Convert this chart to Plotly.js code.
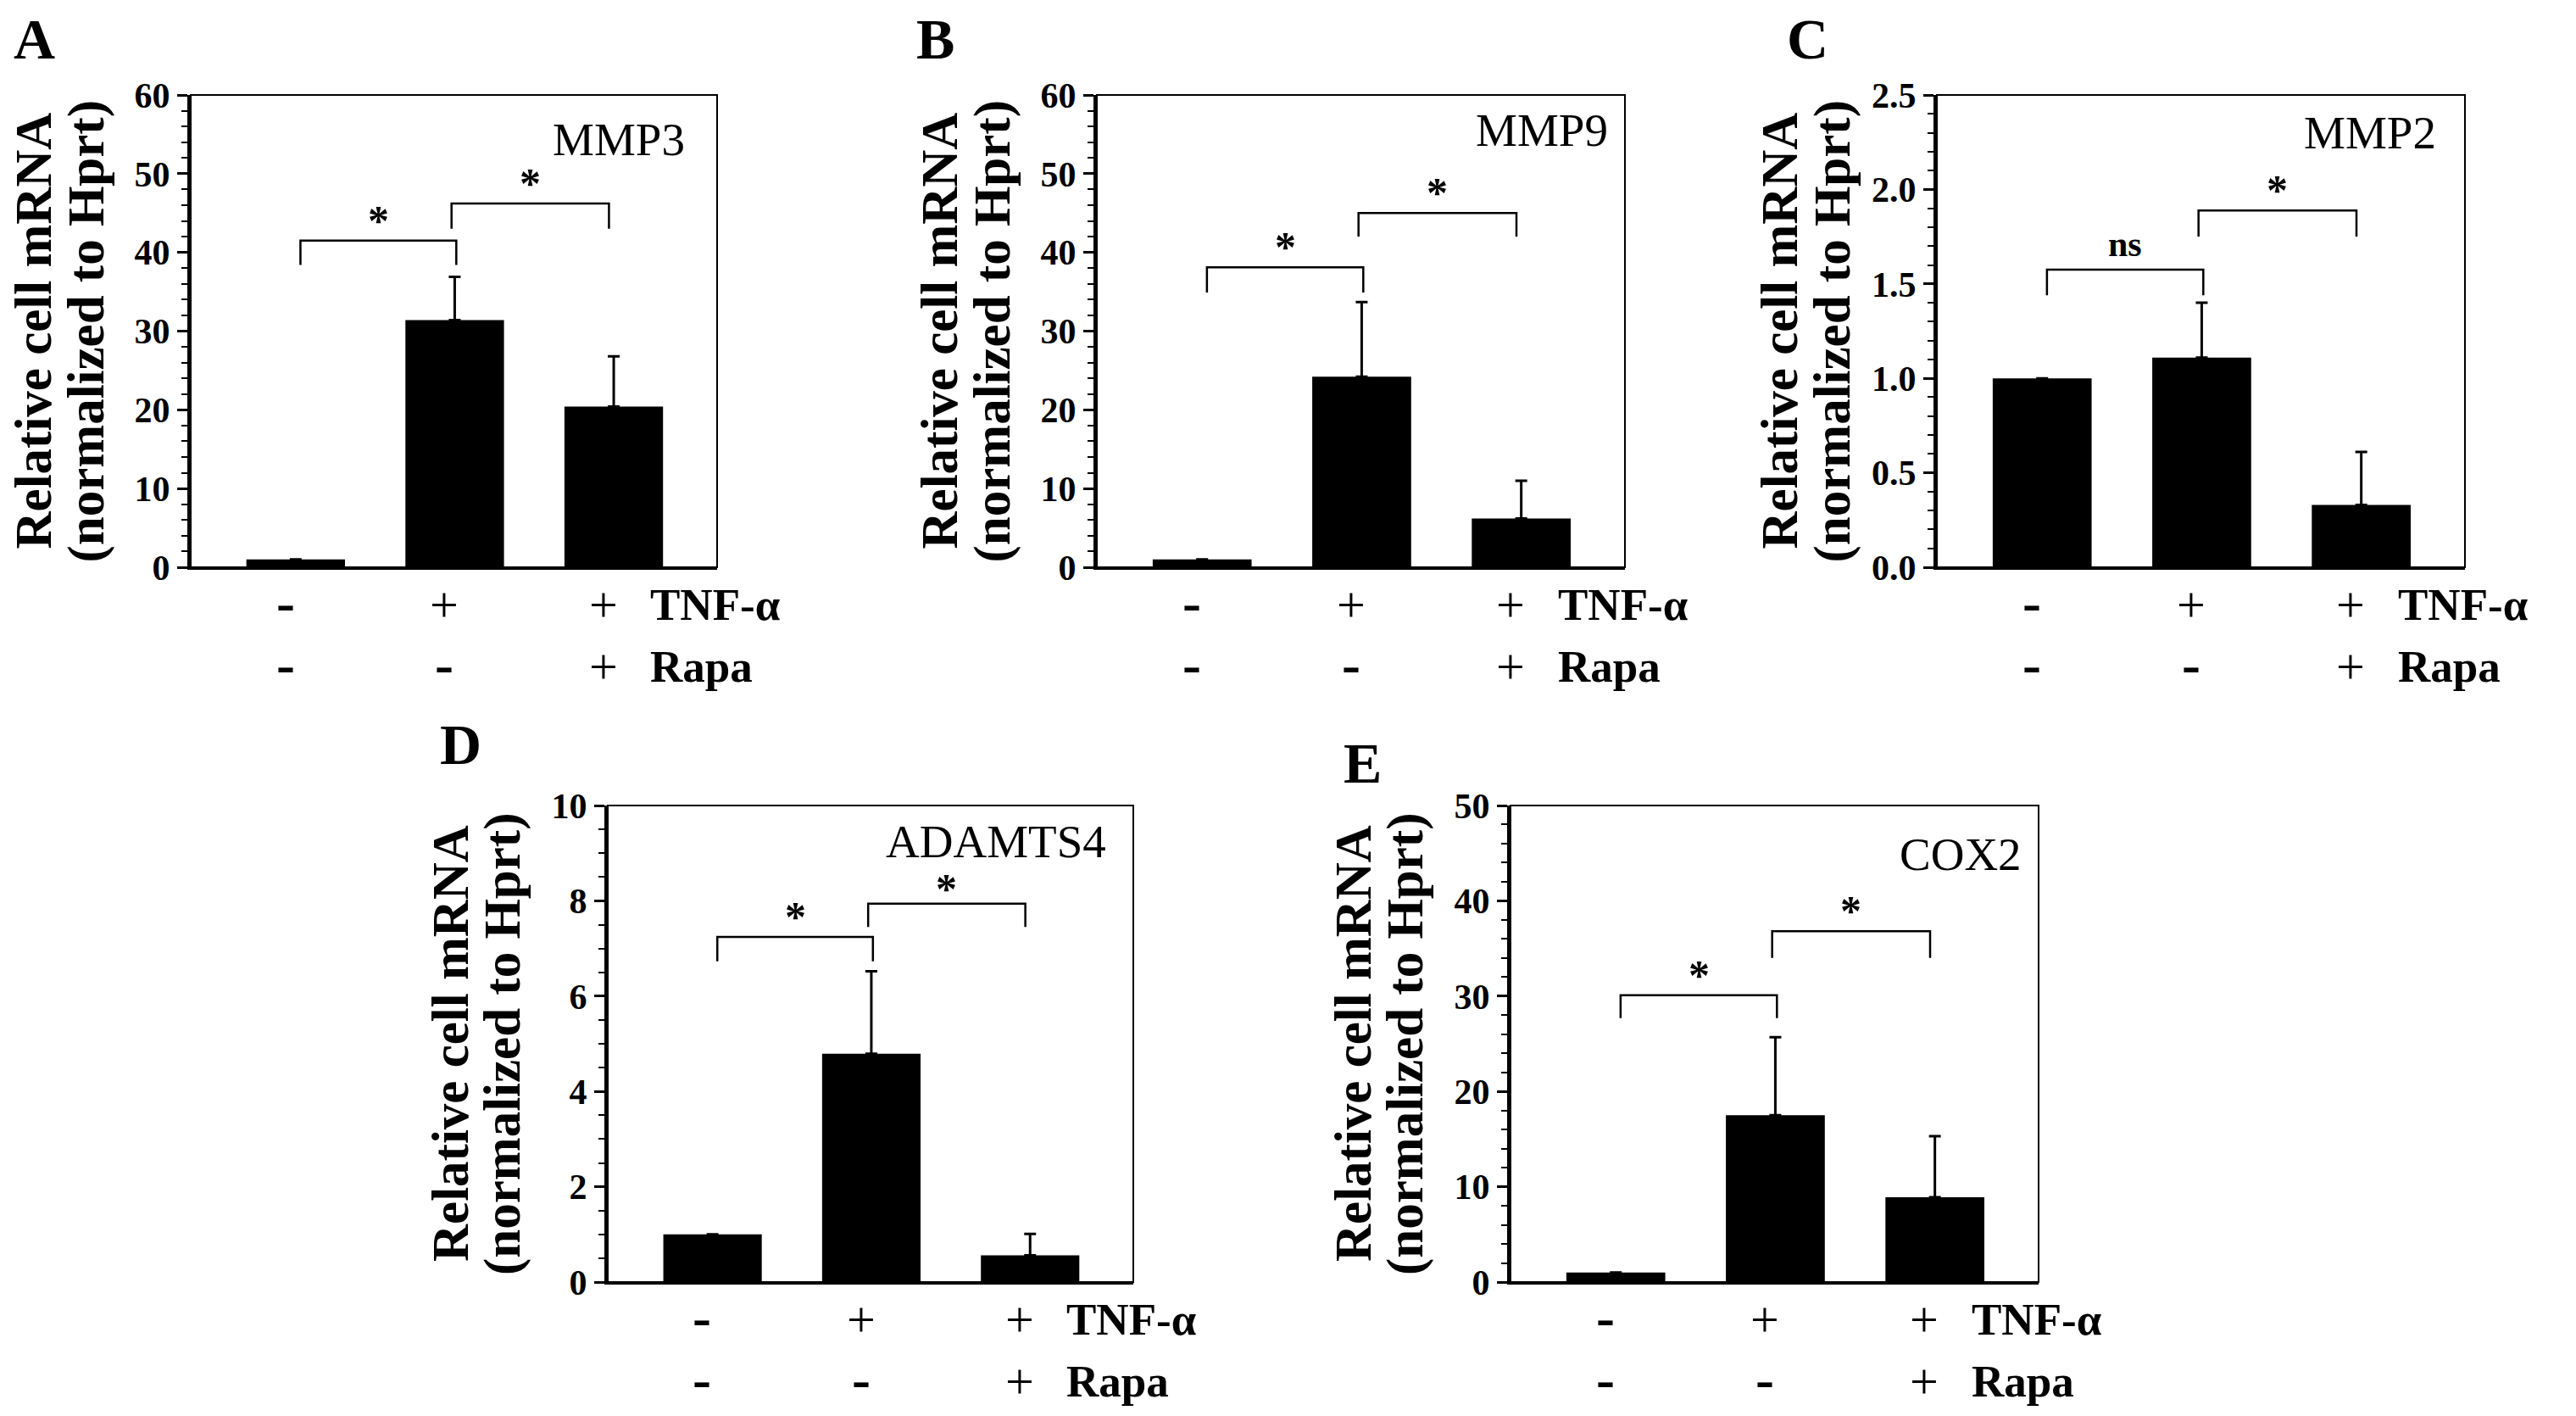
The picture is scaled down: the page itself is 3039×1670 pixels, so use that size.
<!DOCTYPE html>
<html>
<head>
<meta charset="utf-8">
<script src="https://cdn.plot.ly/plotly-3.0.1.min.js"></script>
<style>
  html, body { margin: 0; padding: 0; background: #fff; }
  #chart { width: 3039px; height: 1670px; }
</style>
</head>
<body>
<div id="chart"></div>
<script>
// groups on the x axis and the treatment rows under them
const groups = [0, 1, 2];
const tnfRow = ["-", "+", "+"];
const rapaRow = ["-", "-", "+"];

// A - MMP3
const mmp3Mean = [1.0, 31.4, 20.4];
const mmp3Err = [0, 5.5, 6.4];
const mmp3Level = [41.5, 46.2];
const mmp3Leg = [38.4, 43.0];
const mmp3Mark = ["*", "*"];

// B - MMP9
const mmp9Mean = [1.0, 24.2, 6.2];
const mmp9Err = [0, 9.5, 4.8];
const mmp9Level = [38.1, 45.0];
const mmp9Leg = [34.9, 42.0];
const mmp9Mark = ["*", "*"];

// C - MMP2
const mmp2Mean = [1.0, 1.11, 0.33];
const mmp2Err = [0, 0.29, 0.28];
const mmp2Level = [1.575, 1.888];
const mmp2Leg = [1.44, 1.751];
const mmp2Mark = ["ns", "*"];

// D - ADAMTS4
const adamtsMean = [1.0, 4.79, 0.56];
const adamtsErr = [0, 1.73, 0.45];
const adamtsLevel = [7.24, 7.94];
const adamtsLeg = [6.73, 7.45];
const adamtsMark = ["*", "*"];

// E - COX2
const cox2Mean = [1.0, 17.5, 8.9];
const cox2Err = [0, 8.2, 6.4];
const cox2Level = [30.1, 36.8];
const cox2Leg = [27.7, 34.0];
const cox2Mark = ["*", "*"];

// which groups each bracket joins
const bracketLeft = [0.03, 0.98];
const bracketRight = [1.01, 1.97];

const W = 3039;
const H = 1670;
const FONT = "Liberation Serif, Times New Roman, serif";

// box = [left, right, top, bottom] in px
const panels = [
  { letter: "A", gene: "MMP3", mean: mmp3Mean, err: mmp3Err, level: mmp3Level, leg: mmp3Leg, mark: mmp3Mark,
    yMax: 60, dtick: 10, minor: 2, fmt: "d", box: [225, 846, 112, 669], letterAt: [40, 46], geneShift: -36, geneY: 0.905, starShift: [24, 24] },
  { letter: "B", gene: "MMP9", mean: mmp9Mean, err: mmp9Err, level: mmp9Level, leg: mmp9Leg, mark: mmp9Mark,
    yMax: 60, dtick: 10, minor: 2, fmt: "d", box: [1294, 1917, 112, 669], letterAt: [1103, 46], geneShift: -18, geneY: 0.925, starShift: [24, 24] },
  { letter: "C", gene: "MMP2", mean: mmp2Mean, err: mmp2Err, level: mmp2Level, leg: mmp2Leg, mark: mmp2Mark,
    yMax: 2.5, dtick: 0.5, minor: 0.1, fmt: ".1f", box: [2285, 2908, 112, 669], letterAt: [2132, 46], geneShift: -32, geneY: 0.92, starShift: [30, 24] },
  { letter: "D", gene: "ADAMTS4", mean: adamtsMean, err: adamtsErr, level: adamtsLevel, leg: adamtsLeg, mark: adamtsMark,
    yMax: 10, dtick: 2, minor: 0.5, fmt: "d", box: [717, 1337, 950, 1512], letterAt: [543, 878], geneShift: -30, geneY: 0.925, starShift: [24, 18] },
  { letter: "E", gene: "COX2", mean: cox2Mean, err: cox2Err, level: cox2Level, leg: cox2Leg, mark: cox2Mark,
    yMax: 50, dtick: 10, minor: 2, fmt: "d", box: [1782, 2405, 950, 1512], letterAt: [1607, 900], geneShift: -18, geneY: 0.897, starShift: [24, 24] },
];

const data = [];
const shapes = [];
const annotations = [];
const layout = {
  width: W,
  height: H,
  margin: { l: 0, r: 0, t: 0, b: 0 },
  paper_bgcolor: "white",
  plot_bgcolor: "white",
  showlegend: false,
  font: { family: FONT, color: "black" },
};

panels.forEach((p, i) => {
  const k = i + 1;
  const sfx = k === 1 ? "" : String(k);
  const xr = "x" + sfx;
  const yr = "y" + sfx;
  const [left, right, top, bottom] = p.box;

  data.push({
    type: "bar",
    x: groups,
    y: p.mean,
    width: 0.62,
    xaxis: xr,
    yaxis: yr,
    marker: { color: "black", line: { width: 0 } },
    error_y: {
      type: "data",
      symmetric: false,
      array: p.err,
      arrayminus: [0, 0, 0],
      color: "black",
      thickness: 3,
      width: 7,
    },
    hoverinfo: "skip",
  });

  layout["xaxis" + sfx] = {
    domain: [left / W, right / W],
    anchor: yr,
    range: [-0.66, 2.65],
    showticklabels: false,
    ticks: "",
    showgrid: false,
    zeroline: false,
    showline: true,
    linewidth: 3,
    linecolor: "black",
  };
  layout["yaxis" + sfx] = {
    domain: [1 - bottom / H, 1 - top / H],
    anchor: xr,
    range: [0, p.yMax],
    tick0: 0,
    dtick: p.dtick,
    tickformat: p.fmt,
    ticks: "outside",
    ticklen: 12,
    tickwidth: 3,
    tickcolor: "black",
    showline: true,
    linewidth: 4,
    linecolor: "black",
    showgrid: false,
    zeroline: false,
    tickfont: { family: FONT, size: 42, color: "black", weight: "bold" },
    minor: { dtick: p.minor, ticks: "outside", ticklen: 7, tickwidth: 2, tickcolor: "black", showgrid: false },
  };

  // thin frame round the plot
  shapes.push({
    type: "rect",
    xref: xr + " domain",
    yref: yr + " domain",
    x0: 0, x1: 1, y0: 0, y1: 1,
    line: { color: "black", width: 2 },
  });

  // significance brackets
  p.level.forEach((lvl, j) => {
    const x0 = bracketLeft[j];
    const x1 = bracketRight[j];
    shapes.push({
      type: "path",
      xref: xr,
      yref: yr,
      path: `M ${x0},${p.leg[j]} L ${x0},${lvl} L ${x1},${lvl} L ${x1},${p.leg[j]}`,
      line: { color: "black", width: 2.5 },
    });
    annotations.push({
      xref: xr, yref: yr,
      x: (x0 + x1) / 2, y: lvl,
      text: p.mark[j],
      showarrow: false,
      yanchor: "middle",
      yshift: p.starShift[j],
      font: { family: FONT, size: p.mark[j] === "ns" ? 42 : 50, weight: "bold" },
    });
  });

  // panel letter
  annotations.push({
    xref: "paper", yref: "paper",
    x: p.letterAt[0] / W, y: 1 - p.letterAt[1] / H,
    text: p.letter,
    showarrow: false,
    xanchor: "center", yanchor: "middle",
    font: { family: FONT, size: 68, weight: "bold" },
  });

  // gene name in the corner
  annotations.push({
    xref: xr + " domain", yref: yr + " domain",
    x: 1, y: p.geneY,
    xanchor: "right", yanchor: "middle",
    xshift: p.geneShift,
    text: p.gene,
    showarrow: false,
    font: { family: FONT, size: 55 },
  });

  // y axis title, two lines
  [["Relative cell mRNA", -186], ["(normalized to Hprt)", -124]].forEach(([txt, shift]) => {
    annotations.push({
      xref: xr + " domain", yref: yr + " domain",
      x: 0, y: 0.5,
      xshift: shift,
      textangle: -90,
      text: txt,
      showarrow: false,
      xanchor: "center", yanchor: "middle",
      font: { family: FONT, size: 61, weight: "bold" },
    });
  });

  // treatment rows
  [[tnfRow, "TNF-\u03b1", -44], [rapaRow, "Rapa", -117]].forEach(([row, name, shift]) => {
    row.forEach((sym, g) => {
      const dash = sym === "-";
      annotations.push({
        xref: xr, yref: yr + " domain",
        x: groups[g] - 0.065, y: 0,
        yshift: dash ? shift + 3 : shift,
        text: sym,
        showarrow: false,
        xanchor: "center", yanchor: "middle",
        font: { family: FONT, size: dash ? 66 : 60, weight: dash ? "bold" : "normal" },
      });
    });
    annotations.push({
      xref: xr, yref: yr + " domain",
      x: 2.22, y: 0,
      yshift: shift,
      text: name,
      showarrow: false,
      xanchor: "left", yanchor: "middle",
      font: { family: FONT, size: 53, weight: "bold" },
    });
  });
});

layout.shapes = shapes;
layout.annotations = annotations;

Plotly.newPlot("chart", data, layout, { staticPlot: true, displayModeBar: false });
</script>
</body>
</html>
